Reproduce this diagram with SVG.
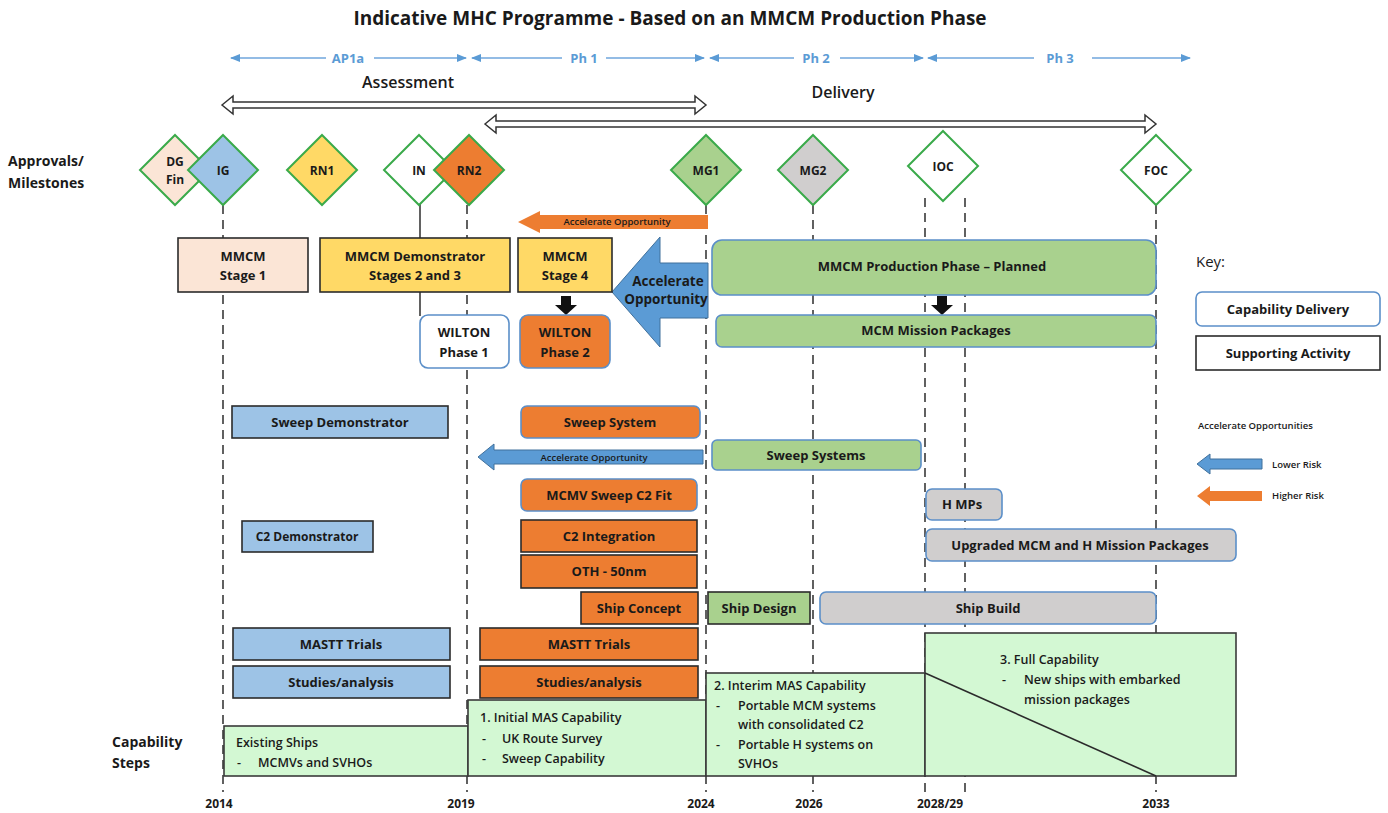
<svg xmlns="http://www.w3.org/2000/svg" width="1388" height="813" viewBox="0 0 1388 813">
<style>
text{font-family:"Open Sans","Noto Sans","DejaVu Sans",sans-serif;fill:#1a1a1a}
.b{font-weight:700;font-size:13px;text-anchor:middle}
.sq{stroke:#2b2b2b;stroke-width:1.6}
.rd{stroke:#5b8fc9;stroke-width:1.6}
.dia{stroke:#3aaa4a;stroke-width:2}
.dl{stroke:#3a3a3a;stroke-width:1.6;stroke-dasharray:9 6;fill:none}
.sl{stroke:#3a3a3a;stroke-width:1.6;fill:none}
.ph{stroke:#6fa6dc;stroke-width:1.5;fill:none}
.pht{fill:#5b9bd5;font-size:13px;font-weight:700;text-anchor:middle}
.cap{fill:#d3f8d3;stroke:#3a3a3a;stroke-width:1.6}
.ct{font-size:12.5px;font-weight:600}
.yr{font-size:12px;font-weight:700;text-anchor:middle}
.peach{fill:#fbe5d6}.yel{fill:#ffd966}.org{fill:#ed7d31}.lb{fill:#9dc3e6}.grn{fill:#a9d18e}.gry{fill:#d0cece}.wht{fill:#ffffff}
.sm{font-size:9.5px;font-weight:600;text-anchor:middle}
</style>
<defs>
<marker id="pa" viewBox="0 0 10 10" refX="9" refY="5" markerWidth="7" markerHeight="7" orient="auto-start-reverse"><path d="M0,1 L10,5 L0,9 Z" fill="#5b9bd5"/></marker>
</defs>

<text x="670" y="25" style="font-size:19px;font-weight:700;text-anchor:middle">Indicative MHC Programme - Based on an MMCM Production Phase</text>

<g id="phases">
<line class="ph" x1="326" y1="58" x2="231" y2="58" marker-end="url(#pa)"/>
<line class="ph" x1="374" y1="58" x2="466" y2="58" marker-end="url(#pa)"/>
<text class="pht" x="348" y="63">AP1a</text>
<line class="ph" x1="562" y1="58" x2="472" y2="58" marker-end="url(#pa)"/>
<line class="ph" x1="606" y1="58" x2="704" y2="58" marker-end="url(#pa)"/>
<text class="pht" x="584" y="63">Ph 1</text>
<line class="ph" x1="794" y1="58" x2="710" y2="58" marker-end="url(#pa)"/>
<line class="ph" x1="840" y1="58" x2="923" y2="58" marker-end="url(#pa)"/>
<text class="pht" x="816" y="63">Ph 2</text>
<line class="ph" x1="1034" y1="58" x2="928" y2="58" marker-end="url(#pa)"/>
<line class="ph" x1="1092" y1="58" x2="1190" y2="58" marker-end="url(#pa)"/>
<text class="pht" x="1060" y="63">Ph 3</text>
</g>

<g id="assessment">
<text x="408" y="88" style="font-size:16px;text-anchor:middle;font-weight:600">Assessment</text>
<polygon points="222,105 233,96 233,102 695,102 695,96 706,105 695,114 695,108 233,108 233,114" fill="#fff" stroke="#333" stroke-width="1.5"/>
</g>
<g id="delivery">
<text x="843" y="98" style="font-size:16px;text-anchor:middle;font-weight:600">Delivery</text>
<polygon points="485,124 496,115 496,121 1145,121 1145,115 1156,124 1145,133 1145,127 496,127 496,133" fill="#fff" stroke="#333" stroke-width="1.5"/>
</g>

<g id="labels-left">
<text x="8" y="166" style="font-size:14px;font-weight:700">Approvals/</text>
<text x="8" y="188" style="font-size:14px;font-weight:700">Milestones</text>
<text x="112" y="747" style="font-size:14px;font-weight:700">Capability</text>
<text x="112" y="768" style="font-size:14px;font-weight:700">Steps</text>
</g>

<g id="connectors">
<line class="dl" x1="223" y1="205" x2="223" y2="792"/>
<line class="dl" x1="467" y1="205" x2="467" y2="792"/>
<line class="dl" x1="706" y1="205" x2="706" y2="792"/>
<line class="dl" x1="813" y1="205" x2="813" y2="792"/>
<line class="dl" x1="925" y1="198" x2="925" y2="792"/>
<line class="dl" x1="965" y1="198" x2="965" y2="792"/>
<line class="dl" x1="1156" y1="205" x2="1156" y2="792"/>
<line class="sl" x1="420" y1="204" x2="420" y2="238"/>
<line class="sl" x1="420" y1="292" x2="420" y2="316"/>
<polygon points="561,296 571,296 571,305 577,305 566,315 555,305 561,305" fill="#111"/>
<polygon points="937,296 947,296 947,305 953,305 942,315 931,305 937,305" fill="#111"/>
</g>

<g id="diamonds">
<g id="m-dgfin"><polygon class="dia peach" points="175,135 210,170 175,205 140,170"/><text class="b" x="175" y="166" style="font-size:12px">DG</text><text class="b" x="175" y="184" style="font-size:12px">Fin</text></g>
<g id="m-ig"><polygon class="dia lb" points="223,135 258,170 223,205 188,170"/><text class="b" x="223" y="175" style="font-size:12px">IG</text></g>
<g id="m-rn1"><polygon class="dia yel" points="322,135 357,170 322,205 287,170"/><text class="b" x="322" y="175" style="font-size:12px">RN1</text></g>
<g id="m-in"><polygon class="dia wht" points="419,135 454,170 419,205 384,170"/><text class="b" x="419" y="175" style="font-size:12px">IN</text></g>
<g id="m-rn2"><polygon class="dia org" points="469,135 504,170 469,205 434,170"/><text class="b" x="469" y="175" style="font-size:12px">RN2</text></g>
<g id="m-mg1"><polygon class="dia grn" points="706,135 741,170 706,205 671,170"/><text class="b" x="706" y="175" style="font-size:12px">MG1</text></g>
<g id="m-mg2"><polygon class="dia gry" points="813,135 848,170 813,205 778,170"/><text class="b" x="813" y="175" style="font-size:12px">MG2</text></g>
<g id="m-ioc"><polygon class="dia wht" points="943,131 978,166 943,201 908,166"/><text class="b" x="943" y="171" style="font-size:12px">IOC</text></g>
<g id="m-foc"><polygon class="dia wht" points="1156,135 1191,170 1156,205 1121,170"/><text class="b" x="1156" y="175" style="font-size:12px">FOC</text></g>
</g>

<g id="acc-orange">
<polygon points="518,222 540,211 540,215 708,215 708,229 540,229 540,233" fill="#ed7d31"/>
<text class="sm" x="617" y="225">Accelerate Opportunity</text>
</g>
<g id="acc-blue-big">
<polygon points="612,292 660,237 660,263 708,263 708,318 660,318 660,347" fill="#5b9bd5" stroke="#41719c" stroke-width="1"/>
<text class="b" x="668" y="286" style="font-size:13.5px">Accelerate</text>
<text class="b" x="666" y="304" style="font-size:13.5px">Opportunity</text>
</g>
<g id="acc-blue-row">
<polygon points="478,457 494,444 494,450 703,450 703,464 494,464 494,470" fill="#5b9bd5" stroke="#41719c" stroke-width="1"/>
<text class="sm" x="594" y="461">Accelerate Opportunity</text>
</g>

<g id="n-stage1"><rect class="sq peach" x="178" y="238" width="130" height="54"/><text class="b" x="243" y="261">MMCM</text><text class="b" x="243" y="280">Stage 1</text></g>
<g id="n-demo"><rect class="sq yel" x="320" y="238" width="190" height="54"/><text class="b" x="415" y="261">MMCM Demonstrator</text><text class="b" x="415" y="280">Stages 2 and 3</text></g>
<g id="n-stage4"><rect class="sq yel" x="518" y="238" width="94" height="54"/><text class="b" x="565" y="261">MMCM</text><text class="b" x="565" y="280">Stage 4</text></g>
<g id="n-wilton1"><rect class="rd wht" x="420" y="315" width="89" height="53" rx="8"/><text class="b" x="464" y="337">WILTON</text><text class="b" x="464" y="357">Phase 1</text></g>
<g id="n-wilton2"><rect class="rd org" x="520" y="315" width="90" height="53" rx="8"/><text class="b" x="565" y="337">WILTON</text><text class="b" x="565" y="357">Phase 2</text></g>
<g id="n-prod"><rect class="rd grn" x="712" y="240" width="444" height="55" rx="10"/><text class="b" x="932" y="271">MMCM Production Phase – Planned</text></g>
<g id="n-mcmmp"><rect class="rd grn" x="716" y="315" width="440" height="32" rx="6"/><text class="b" x="936" y="335">MCM Mission Packages</text></g>

<g id="key">
<text x="1196" y="267" style="font-size:15px">Key:</text>
<rect class="rd wht" x="1196" y="292" width="184" height="34" rx="6"/><text class="b" x="1288" y="314">Capability Delivery</text>
<rect class="sq wht" x="1196" y="336" width="184" height="34"/><text class="b" x="1288" y="358">Supporting Activity</text>
<text x="1198" y="429" style="font-size:9.5px;font-weight:600">Accelerate Opportunities</text>
<polygon points="1197,464 1210,454 1210,459 1262,459 1262,469 1210,469 1210,474" fill="#5b9bd5" stroke="#41719c" stroke-width="1"/>
<text x="1272" y="468" style="font-size:9.5px;font-weight:600">Lower Risk</text>
<polygon points="1197,496 1210,486 1210,491 1262,491 1262,501 1210,501 1210,506" fill="#ed7d31"/>
<text x="1272" y="499" style="font-size:9.5px;font-weight:600">Higher Risk</text>
</g>

<g id="n-sweepdemo"><rect class="sq lb" x="232" y="406" width="216" height="32"/><text class="b" x="340" y="427">Sweep Demonstrator</text></g>
<g id="n-sweepsys"><rect class="rd org" x="521" y="406" width="179" height="32" rx="6"/><text class="b" x="610" y="427">Sweep System</text></g>
<g id="n-sweepsyss"><rect class="rd grn" x="712" y="440" width="209" height="30" rx="5"/><text class="b" x="816" y="460">Sweep Systems</text></g>
<g id="n-c2fit"><rect class="rd org" x="521" y="479" width="176" height="32" rx="6"/><text class="b" x="609" y="500">MCMV Sweep C2 Fit</text></g>
<g id="n-hmps"><rect class="rd gry" x="926" y="489" width="76" height="31" rx="6"/><text class="b" x="962" y="509">H MPs</text></g>
<g id="n-c2demo"><rect class="sq lb" x="242" y="521" width="131" height="31"/><text class="b" x="307" y="541" style="font-size:12px">C2 Demonstrator</text></g>
<g id="n-c2int"><rect class="sq org" x="521" y="520" width="176" height="32"/><text class="b" x="609" y="541">C2 Integration</text></g>
<g id="n-upg"><rect class="rd gry" x="926" y="529" width="310" height="32" rx="6"/><text class="b" x="1080" y="550">Upgraded MCM and H Mission Packages</text></g>
<g id="n-oth"><rect class="sq org" x="521" y="555" width="176" height="33"/><text class="b" x="609" y="576">OTH - 50nm</text></g>
<g id="n-shipconcept"><rect class="sq org" x="581" y="592" width="117" height="32"/><text class="b" x="639" y="613">Ship Concept</text></g>
<g id="n-shipdesign"><rect class="sq grn" x="708" y="592" width="102" height="32"/><text class="b" x="759" y="613">Ship Design</text></g>
<g id="n-shipbuild"><rect class="rd gry" x="820" y="592" width="336" height="32" rx="6"/><text class="b" x="988" y="613">Ship Build</text></g>
<g id="n-mastt1"><rect class="sq lb" x="233" y="628" width="217" height="32"/><text class="b" x="341" y="649">MASTT Trials</text></g>
<g id="n-mastt2"><rect class="sq org" x="480" y="628" width="218" height="32"/><text class="b" x="589" y="649">MASTT Trials</text></g>
<g id="n-studies1"><rect class="sq lb" x="233" y="666" width="217" height="32"/><text class="b" x="341" y="687">Studies/analysis</text></g>
<g id="n-studies2"><rect class="sq org" x="480" y="666" width="218" height="32"/><text class="b" x="589" y="687">Studies/analysis</text></g>

<g id="cap-existing"><rect class="cap" x="224" y="726" width="244" height="50"/><text class="ct" x="236" y="747">Existing Ships</text><text class="ct" x="237" y="767">-</text><text class="ct" x="258" y="767">MCMVs and SVHOs</text></g>
<g id="cap-1"><rect class="cap" x="468" y="700" width="238" height="76"/><text class="ct" x="480" y="722">1. Initial MAS Capability</text><text class="ct" x="482" y="743">-</text><text class="ct" x="502" y="743">UK Route Survey</text><text class="ct" x="482" y="763">-</text><text class="ct" x="502" y="763">Sweep Capability</text></g>
<g id="cap-2"><rect class="cap" x="706" y="673" width="219" height="103"/><text class="ct" x="714" y="690">2. Interim MAS Capability</text><text class="ct" x="716" y="710">-</text><text class="ct" x="738" y="710">Portable MCM systems</text><text class="ct" x="738" y="729">with consolidated C2</text><text class="ct" x="716" y="749">-</text><text class="ct" x="738" y="749">Portable H systems on</text><text class="ct" x="738" y="768">SVHOs</text></g>
<g id="cap-3"><rect class="cap" x="925" y="633" width="311" height="143"/><line x1="925" y1="673" x2="1156" y2="776" stroke="#2b2b2b" stroke-width="1.6"/><text class="ct" x="1000" y="664">3. Full Capability</text><text class="ct" x="1002" y="684">-</text><text class="ct" x="1024" y="684">New ships with embarked</text><text class="ct" x="1024" y="704">mission packages</text></g>

<g id="years">
<text class="yr" x="219" y="808">2014</text>
<text class="yr" x="461" y="808">2019</text>
<text class="yr" x="701" y="808">2024</text>
<text class="yr" x="809" y="808">2026</text>
<text class="yr" x="940" y="808">2028/29</text>
<text class="yr" x="1156" y="808">2033</text>
</g>
</svg>
